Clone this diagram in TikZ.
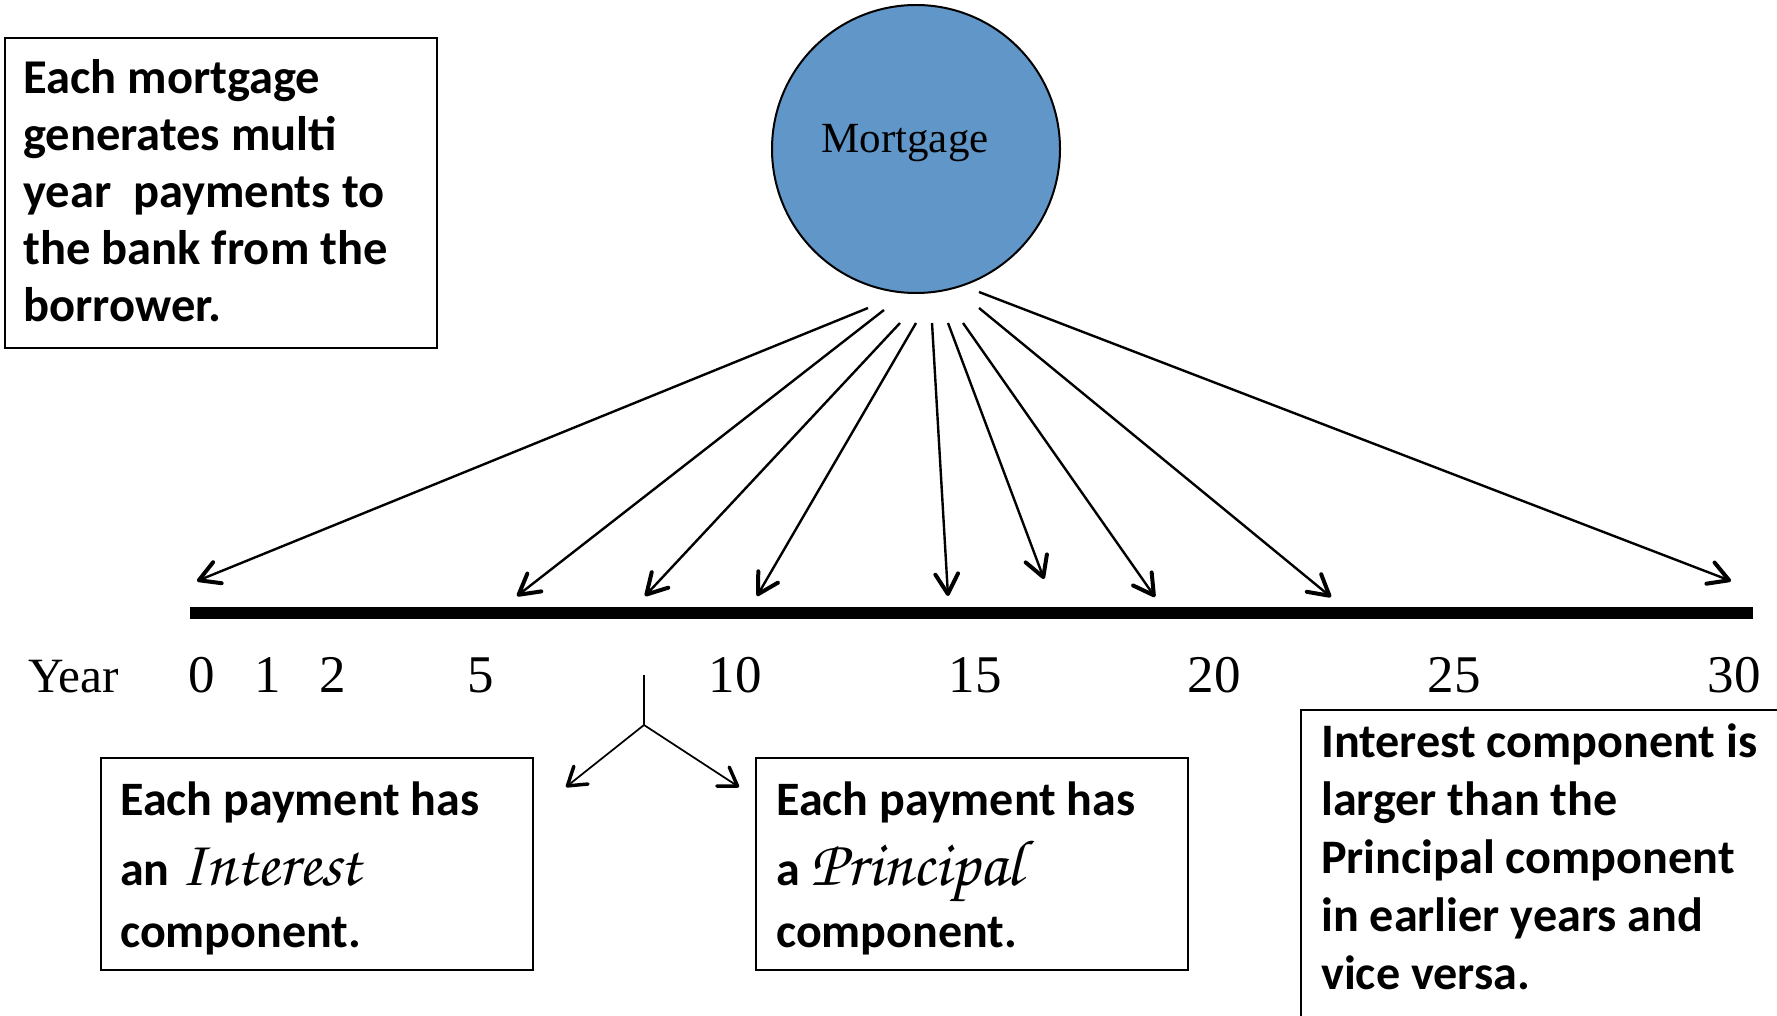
\documentclass[tikz,border=0pt]{standalone}
\usepackage{fontspec}
\setmainfont{Liberation Serif}
\newfontfamily\boxfont{Carlito}[BoldFont=* Bold]
\newfontfamily\chancery{TeX Gyre Chorus}
\usetikzlibrary{arrows.meta}
\definecolor{mortblue}{RGB}{97,150,201}
\begin{document}
\begin{tikzpicture}[x=0.75pt,y=-0.75pt,
  payarrow/.style={line width=1.8pt,
    -{Straight Barb[length=15pt,width=17pt,line width=3pt,round]}},
  splitarrow/.style={line width=1.3pt,
    -{Straight Barb[length=13pt,width=17pt,line width=2.6pt,round]}},
  infobox/.style={draw,line width=1.2pt,anchor=north west,inner sep=0pt},
  boxtext/.style={anchor=base west,inner sep=0pt},
  tick/.style={anchor=base,inner sep=0pt,font=\fontsize{39.75pt}{44pt}\selectfont}]
\useasboundingbox (0,0) rectangle (1777,1016);
\clip (0,0) rectangle (1777,1016);

% explanatory box, top left
\node[infobox,minimum width=324pt,minimum height=232.5pt] (genbox) at (4,37) {};
\node[boxtext] (gentext) at (23,94) {\parbox[t]{320pt}{\boxfont\bfseries
  \fontsize{36.4pt}{42.75pt}\selectfont\lineskiplimit=-100pt
  Each mortgage\\ generates multi\\ year~ payments to\\ the bank from the\\ borrower.}};

% the mortgage
\node[circle,draw,line width=1.5pt,fill=mortblue,minimum size=216pt,inner sep=0pt] (mort) at (916,149) {};
\node[anchor=base,inner sep=0pt,font=\fontsize{32.25pt}{36pt}\selectfont] (mortlabel) at (905,153) {Mortgage};

% time line
\node[draw=none,fill=black,anchor=west,minimum width=1172.25pt,minimum height=9pt,inner sep=0pt] (axis) at (190,613) {};

% payments: start points under the circle, tips above the axis
\coordinate (s1) at (868,308); \coordinate (t1) at (197,581);
\coordinate (s2) at (884,310); \coordinate (t2) at (517,596);
\coordinate (s3) at (900,323); \coordinate (t3) at (645,596);
\coordinate (s4) at (916,323); \coordinate (t4) at (757,596);
\coordinate (s5) at (932,323); \coordinate (t5) at (948,596);
\coordinate (s6) at (948,323); \coordinate (t6) at (1044,579);
\coordinate (s7) at (963,323); \coordinate (t7) at (1155,597);
\coordinate (s8) at (979,308); \coordinate (t8) at (1331,597);
\coordinate (s9) at (979,292); \coordinate (t9) at (1731,581);
\foreach \i in {1,...,9} \draw[payarrow] (s\i) -- (t\i);

% year labels
\node[tick,anchor=base west,font=\fontsize{37pt}{44pt}\selectfont] (yearlabel) at (28,692) {Year};
\node[tick] (y0) at (202,692) {0};
\node[tick] (y1) at (268,692) {1};
\node[tick] (y2) at (333,692) {2};
\node[tick] (y5) at (481,692) {5};
\node[tick] (y10) at (735,692) {10};
\node[tick] (y15) at (975,692) {15};
\node[tick] (y20) at (1214,692) {20};
\node[tick] (y25) at (1454,692) {25};
\node[tick] (y30) at (1734,692) {30};

% split of a payment into its two components
\coordinate (stem) at (644,675);
\coordinate (fork) at (644,725);
\coordinate (intip) at (566,787);
\coordinate (prtip) at (739,787);
\draw[line width=1.3pt] (stem) -- (fork);
\draw[splitarrow] (fork) -- (intip);
\draw[splitarrow] (fork) -- (prtip);

% interest component box
\node[infobox,minimum width=324pt,minimum height=159pt] (intbox) at (100,757) {};
\node[boxtext] (inttext) at (120,815) {\parbox[t]{320pt}{\boxfont\bfseries
  \fontsize{36pt}{46.5pt}\selectfont\lineskiplimit=-100pt
  Each payment has\\[6pt] an {\chancery\mdseries\fontsize{49pt}{46.5pt}\selectfont Interest}\\ component.}};

% principal component box
\node[infobox,minimum width=324pt,minimum height=159pt] (prinbox) at (755,757) {};
\node[boxtext] (printext) at (776,815) {\parbox[t]{320pt}{\boxfont\bfseries
  \fontsize{36pt}{46.5pt}\selectfont\lineskiplimit=-100pt
  Each payment has\\[6pt] a {\chancery\mdseries\fontsize{49pt}{46.5pt}\selectfont Principal}\\ component.}};

% comparison box, bottom right
\node[infobox,minimum width=375pt,minimum height=300pt] (cmpbox) at (1300,709) {};
\node[boxtext] (cmptext) at (1321,757) {\parbox[t]{360pt}{\boxfont\bfseries
  \fontsize{36.1pt}{43.5pt}\selectfont\lineskiplimit=-100pt
  Interest component is\\ larger than the\\ Principal component\\ in earlier years and\\ vice versa.}};
\end{tikzpicture}
\end{document}
